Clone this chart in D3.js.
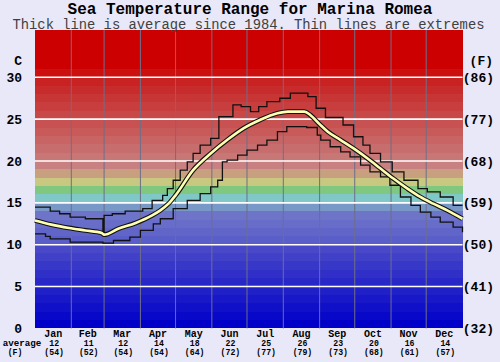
<!DOCTYPE html>
<html>
<head>
<meta charset="utf-8">
<script src="https://cdn.jsdelivr.net/npm/d3@7"></script>
<style>
  body { margin: 0; background: #e8e8f8; }
  svg { display: block; font-family: "Liberation Mono", "DejaVu Sans Mono", monospace; }
</style>
</head>
<body>
<div id="chart"></div>
<script>
// month labels and monthly averages
const months = ["Jan","Feb","Mar","Apr","May","Jun","Jul","Aug","Sep","Oct","Nov","Dec"];
const monthDays = [31,28,31,30,31,30,31,31,30,31,30,31];
const avgC = [12,11,12,14,18,22,25,26,23,20,16,14];
const avgF = [54,52,54,54,64,72,77,79,73,68,61,57];

// axis ticks
const cTicks = [0,5,10,15,20,25,30];
const fTicks = [32,41,50,59,68,77,86];

// series: [day of year, deg C]
const avgSeries = [
  [0,12.9],[14,12.4],[29,12.0],[43,11.7],[57,11.4],[59,11.2],[71,11.9],[86,12.6],
  [100,13.5],[107,14.1],[114,14.9],[120,15.9],[135,18.9],[150,20.9],[164,22.5],
  [178,23.9],[192,24.9],[207,25.7],[216,25.9],[230,25.9],[235,25.5],[243,24.4],
  [250,23.5],[261,22.5],[272,21.5],[284,20.3],[295,19.1],[306,17.9],[318,16.7],
  [329,15.7],[340,14.9],[352,14.1],[365,13.1]
];
const maxSeries = [
  [0,14.5],[13,14.0],[21,13.7],[30,13.3],[43,13.1],[58,11.5],[59,13.5],[66,13.7],
  [77,14.0],[92,14.3],[100,15.3],[109,15.9],[113,16.7],[118,17.7],[124,18.9],
  [130,19.9],[135,20.9],[141,21.9],[150,22.7],[157,25.3],[169,26.7],[176,26.5],
  [184,25.9],[191,26.5],[198,27.1],[209,27.5],[218,28.1],[233,27.7],[240,26.3],
  [248,25.2],[263,24.3],[272,22.9],[280,21.9],[286,20.9],[295,19.9],[305,18.7],
  [315,17.7],[327,16.7],[335,16.3],[346,15.7],[357,14.7],[365,14.7]
];
const minSeries = [
  [0,11.3],[9,11.0],[13,10.7],[30,10.3],[58,10.2],[67,10.5],[81,10.9],[90,11.7],
  [101,12.5],[107,13.1],[118,14.3],[130,15.3],[141,16.1],[150,16.9],[156,17.7],
  [160,19.9],[164,20.1],[173,20.7],[181,21.3],[190,21.9],[198,22.5],[207,23.5],
  [215,24.1],[228,24.1],[232,24.0],[241,23.1],[244,22.5],[252,21.7],[261,21.1],
  [269,20.5],[278,19.5],[286,18.7],[295,18.1],[303,17.1],[312,15.7],[321,14.7],
  [329,13.9],[338,13.3],[346,12.7],[357,12.1],[365,11.5]
];

const W = 500, H = 362;
const PLOT = { LEFT: 35, RIGHT: 462.5, TOP: 30, BOTTOM: 328.4 };

const svg = d3.select("#chart").append("svg")
  .attr("width", W).attr("height", H);

svg.append("rect").attr("width", W).attr("height", H).attr("fill", "#e8e8f8");

const x = d3.scaleLinear().domain([0, 365]).range([PLOT.LEFT, PLOT.RIGHT]);
const y = d3.scaleLinear().domain([0, 30]).range([PLOT.BOTTOM, 77.3]);
const topC = y.invert(PLOT.TOP);

// colour of each 1 degree band
const bandColor = d3.scaleLinear()
  .domain([0, 9, 10, 13, 14, 15, 16, 17, 18, 19, 29, 30, 31, 36])
  .range(["#0000c8","#4848c8","#5a5ec8","#6e74c8","#7898c8","#80c8c8","#80c880",
          "#c8c880","#c8a080","#c88080","#c82222","#cc1010","#cc0000","#cc0000"]);

const bands = d3.range(0, Math.ceil(topC));
svg.append("g").selectAll("rect").data(bands).join("rect")
  .attr("x", PLOT.LEFT)
  .attr("width", PLOT.RIGHT - PLOT.LEFT)
  .attr("y", d => Math.max(PLOT.TOP, y(d + 1)))
  .attr("height", d => y(d) - Math.max(PLOT.TOP, y(d + 1)))
  .attr("fill", d => bandColor(d))
  .attr("shape-rendering", "crispEdges");

// month boundaries
const monthStart = [0];
monthDays.forEach((d, i) => monthStart.push(monthStart[i] + d));
svg.append("g").selectAll("line").data(monthStart.slice(1, 12)).join("line")
  .attr("x1", d => x(d)).attr("x2", d => x(d))
  .attr("y1", PLOT.TOP).attr("y2", PLOT.BOTTOM)
  .attr("stroke", "#6e6e8a").attr("stroke-width", 1);

// white grid lines
svg.append("g").selectAll("line").data(cTicks.slice(1)).join("line")
  .attr("x1", PLOT.LEFT).attr("x2", PLOT.RIGHT)
  .attr("y1", d => y(d)).attr("y2", d => y(d))
  .attr("stroke", "#ffffff").attr("stroke-width", 1.6);

const stepLine = d3.line().x(d => x(d[0])).y(d => y(d[1])).curve(d3.curveStepAfter);
const avgLine = d3.line().x(d => x(d[0])).y(d => y(d[1])).curve(d3.curveMonotoneX);

[maxSeries, minSeries].forEach(s => {
  svg.append("path").attr("d", stepLine(s))
    .attr("fill", "none").attr("stroke", "#111").attr("stroke-width", 1.3);
});
svg.append("path").attr("d", avgLine(avgSeries))
  .attr("fill", "none").attr("stroke", "#111").attr("stroke-width", 4.8)
  .attr("stroke-linejoin", "round");
svg.append("path").attr("d", avgLine(avgSeries))
  .attr("fill", "none").attr("stroke", "#ffffb4").attr("stroke-width", 2.6)
  .attr("stroke-linejoin", "round");

// titles
svg.append("text").attr("x", 250).attr("y", 13.5).attr("text-anchor", "middle")
  .attr("font-size", 16).attr("font-weight", "bold").attr("fill", "#000")
  .text("Sea Temperature Range for Marina Romea");
svg.append("text").attr("x", 248.5).attr("y", 29).attr("text-anchor", "middle")
  .attr("font-size", 13.8).attr("fill", "#404040")
  .text("Thick line is average since 1984. Thin lines are extremes");

// left axis (C)
svg.append("text").attr("x", 22).attr("y", 65).attr("text-anchor", "end")
  .attr("font-size", 13).attr("font-weight", "bold").text("C");
svg.append("g").selectAll("text").data(cTicks).join("text")
  .attr("x", 22).attr("y", d => y(d) + 4.5).attr("text-anchor", "end")
  .attr("font-size", 13).attr("font-weight", "bold").text(d => d);

// right axis (F)
svg.append("text").attr("x", 493).attr("y", 65).attr("text-anchor", "end")
  .attr("font-size", 13).attr("font-weight", "bold").text("(F)");
svg.append("g").selectAll("text").data(fTicks).join("text")
  .attr("x", 494).attr("y", (d, i) => y(cTicks[i]) + 4.5).attr("text-anchor", "end")
  .attr("font-size", 13).attr("font-weight", "bold").text(d => "(" + d + ")");

// bottom month labels
const mid = i => x((monthStart[i] + monthStart[i + 1]) / 2);
const bottom = svg.append("g").attr("text-anchor", "middle").attr("font-weight", "bold");
bottom.selectAll(".m").data(months).join("text").attr("class", "m")
  .attr("x", (d, i) => mid(i)).attr("y", 336.8).attr("font-size", 10).text(d => d);
bottom.selectAll(".c").data(avgC).join("text").attr("class", "c")
  .attr("x", (d, i) => mid(i) + 1).attr("y", 346).attr("font-size", 8.2).text(d => d);
bottom.selectAll(".f").data(avgF).join("text").attr("class", "f")
  .attr("x", (d, i) => mid(i) + 1).attr("y", 355).attr("font-size", 8.2).text(d => "(" + d + ")");
bottom.append("text").attr("x", 22).attr("y", 346).attr("font-size", 9.2).text("average");
bottom.append("text").attr("x", 15).attr("y", 355).attr("font-size", 8.2).text("(F)");
</script>
</body>
</html>
